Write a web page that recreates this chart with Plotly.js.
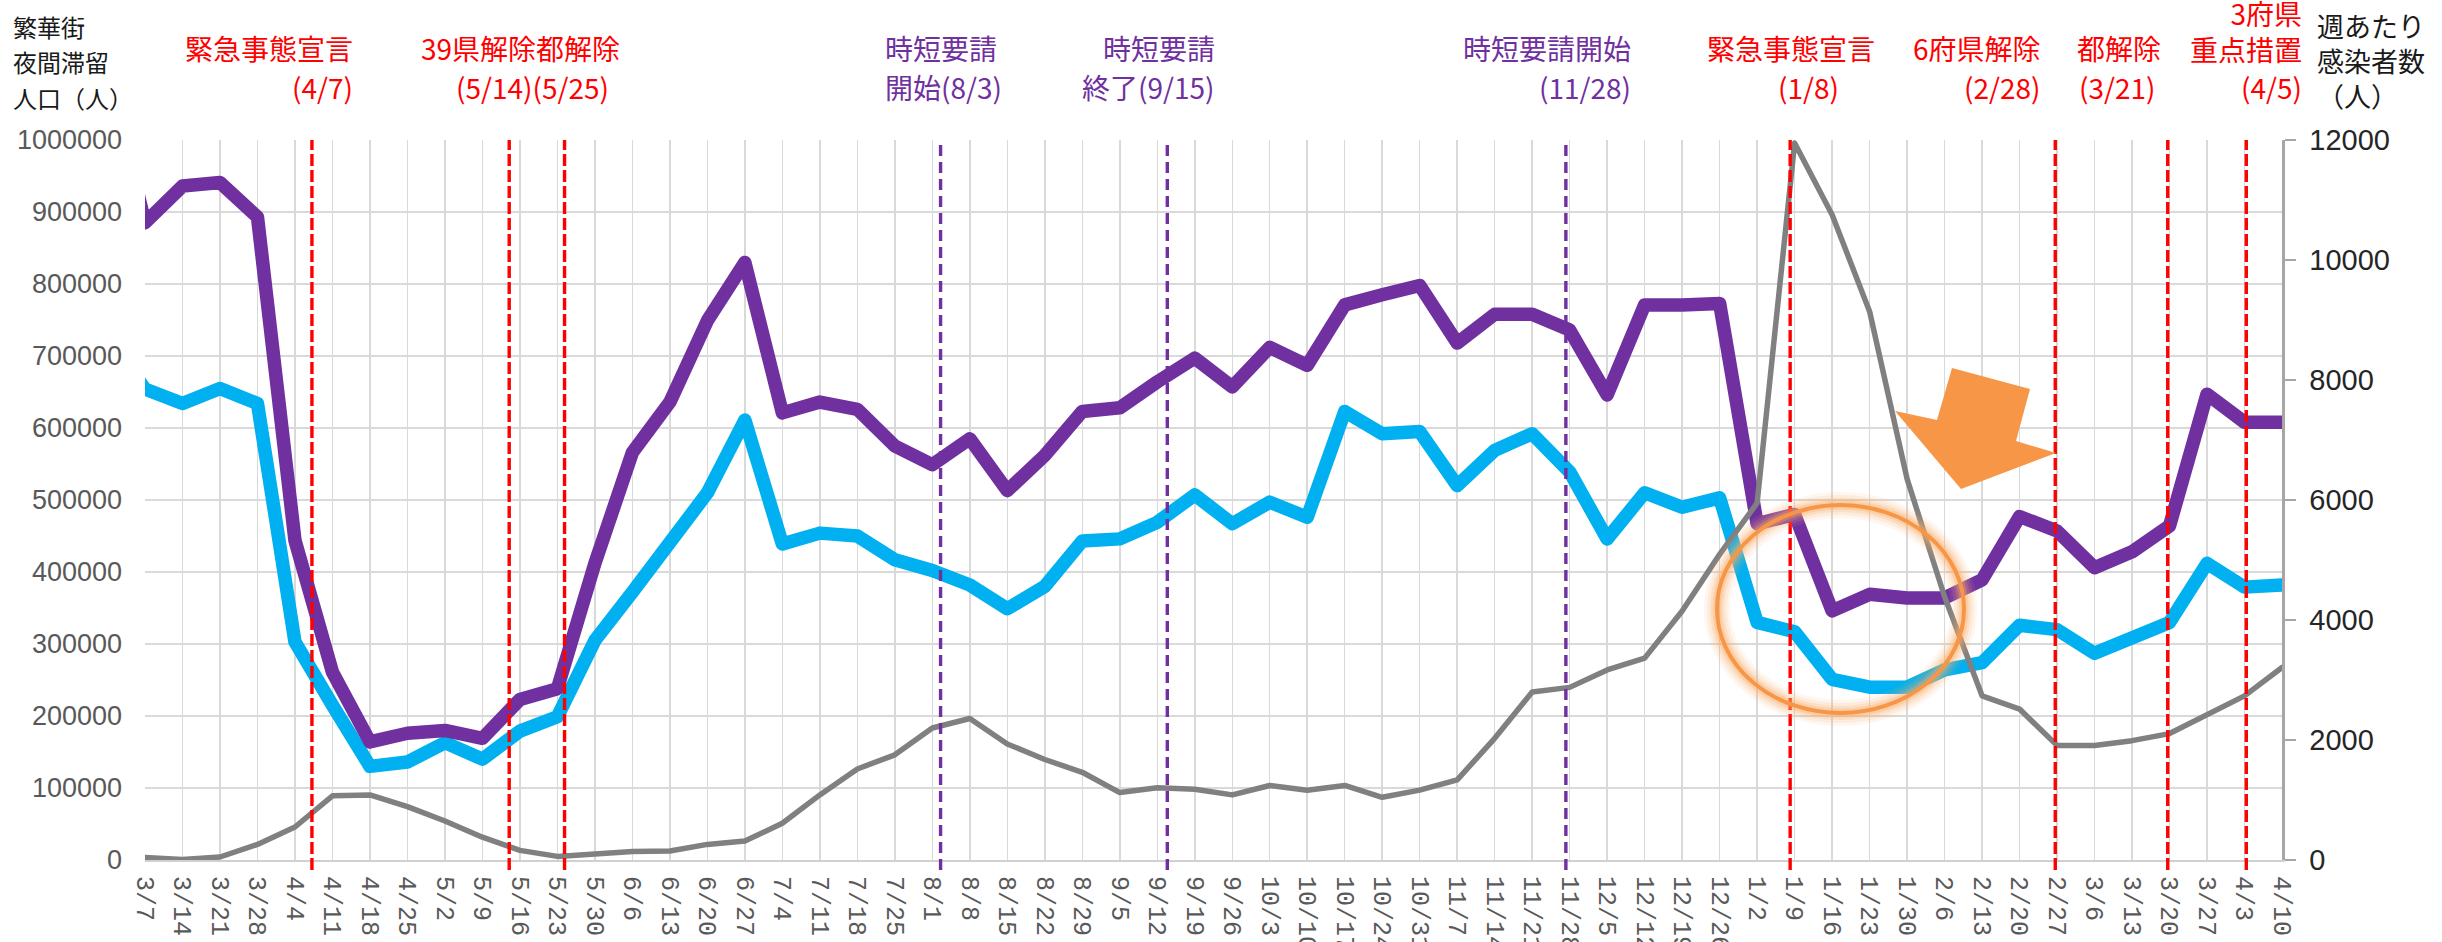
<!DOCTYPE html>
<html>
<head>
<meta charset="utf-8">
<script src="https://cdn.plot.ly/plotly-3.0.1.min.js"></script>
<style>
  html, body { margin: 0; padding: 0; background: #fff; }
  #chart { width: 2442px; height: 942px; }
  .scatterlayer .js-line { stroke-linejoin: round; stroke-linecap: round; }
</style>
</head>
<body>
<div id="chart"></div>
<script>
// Weekly dates (first entry 2/29 lies just outside the visible range)
const weekDates = [
  '2020-02-29',
  '2020-03-07','2020-03-14','2020-03-21','2020-03-28','2020-04-04','2020-04-11','2020-04-18','2020-04-25',
  '2020-05-02','2020-05-09','2020-05-16','2020-05-23','2020-05-30','2020-06-06','2020-06-13','2020-06-20',
  '2020-06-27','2020-07-04','2020-07-11','2020-07-18','2020-07-25','2020-08-01','2020-08-08','2020-08-15',
  '2020-08-22','2020-08-29','2020-09-05','2020-09-12','2020-09-19','2020-09-26','2020-10-03','2020-10-10',
  '2020-10-17','2020-10-24','2020-10-31','2020-11-07','2020-11-14','2020-11-21','2020-11-28','2020-12-05',
  '2020-12-12','2020-12-19','2020-12-26','2021-01-02','2021-01-09','2021-01-16','2021-01-23','2021-01-30',
  '2021-02-06','2021-02-13','2021-02-20','2021-02-27','2021-03-06','2021-03-13','2021-03-20','2021-03-27',
  '2021-04-03','2021-04-10'
];

// 繁華街 夜間滞留人口 (purple)
const purpleSeries = [
  1100000,
  885000, 936000, 941000, 893000, 444000, 261000, 164000, 176000,
  180000, 169000, 223000, 238000, 412000, 566000, 636000, 749000,
  830000, 621000, 636000, 626000, 575000, 549000, 585000, 513000,
  562000, 623000, 628000, 664000, 697000, 657000, 712000, 687000,
  771000, 785000, 798000, 718000, 758000, 758000, 736000, 646000,
  771000, 771000, 773000, 467000, 480000, 346000, 369000, 364000,
  364000, 389000, 477000, 457000, 406000, 428000, 464000, 647000,
  608000, 608000
];

// 繁華街 夜間滞留人口 (cyan)
const cyanSeries = [
  730000,
  654000, 634000, 655000, 634000, 303000, 215000, 130000, 136000,
  163000, 140000, 179000, 199000, 305000, 372000, 445000, 510000,
  611000, 439000, 454000, 450000, 417000, 402000, 382000, 349000,
  380000, 443000, 446000, 469000, 507000, 467000, 497000, 476000,
  623000, 592000, 595000, 520000, 569000, 592000, 539000, 446000,
  510000, 490000, 503000, 330000, 317000, 251000, 240000, 240000,
  264000, 274000, 326000, 320000, 287000, 307000, 330000, 412000,
  379000, 382000
];

// 週あたり感染者数 (gray, right axis)
const casesSeries = [
  40,
  40, 10, 50, 260, 550, 1070, 1085, 890,
  650, 380, 160, 60, 100, 140, 150, 260,
  315, 613, 1085, 1517, 1753, 2200, 2358, 1934,
  1675, 1462, 1124, 1203, 1180, 1085, 1242, 1164,
  1242, 1045, 1164, 1336, 2028, 2800, 2877, 3168,
  3365, 4150, 5094, 5950, 11950, 10755, 9143, 6352,
  4387, 2736, 2516, 1910, 1910, 1989, 2107, 2421,
  2736, 3208
];

// Event marker lines (positions as drawn in the reference, on its weekly axis)
const eventPositions = ['2020-04-07 04:00','2020-05-14 00:00','2020-05-24 08:00','2020-08-02 13:00','2020-09-13 21:00',
                        '2020-11-27 07:00','2021-01-08 04:00','2021-02-26 16:00','2021-03-19 16:00','2021-04-03 08:00'];
const eventColors = ['#FF0000','#FF0000','#FF0000','#7030A0','#7030A0','#7030A0','#FF0000','#FF0000','#FF0000','#FF0000'];

// Visible tick dates and labels
const tickDates  = weekDates.slice(1);
const tickLabels = tickDates.map(d => (+d.slice(5,7)) + '/' + (+d.slice(8,10)));

// plot-area pixel geometry helpers (for decorations / text placement)
const PL = 145, PR = 2282, PT = 140, PB = 860;
const X = px => (px - PL) / (PR - PL);
const Y = py => (PB - py) / (PB - PT);

const traces = [
  { x: weekDates, y: cyanSeries, type: 'scatter', mode: 'lines',
    line: { color: '#00B0F0', width: 13.5 }, hoverinfo: 'skip', yaxis: 'y' },
  { x: weekDates, y: purpleSeries, type: 'scatter', mode: 'lines',
    line: { color: '#7030A0', width: 13.5 }, hoverinfo: 'skip', yaxis: 'y' },
  { x: weekDates, y: casesSeries, type: 'scatter', mode: 'lines',
    line: { color: '#808080', width: 5.5 }, hoverinfo: 'skip', yaxis: 'y2' }
];

const shapes = [];
eventPositions.forEach((d, i) => {
  shapes.push({ type: 'line', xref: 'x', yref: 'paper', x0: d, x1: d, y0: -0.014, y1: 1,
    line: { color: eventColors[i], width: 3.4, dash: eventColors[i] === '#FF0000' ? '12px,4px' : '11px,6px' },
    layer: 'above' });
});

// glowing ellipse
const ex0 = X(1717), ex1 = X(1964), ey0 = Y(713), ey1 = Y(505);
[[26, 0.10], [20, 0.14], [14, 0.20], [9, 0.32]].forEach(([w, o]) => {
  shapes.push({ type: 'circle', xref: 'paper', yref: 'paper', x0: ex0, x1: ex1, y0: ey0, y1: ey1,
    line: { color: '#F9AE6A', width: w }, opacity: o, layer: 'above' });
});
shapes.push({ type: 'circle', xref: 'paper', yref: 'paper', x0: ex0, x1: ex1, y0: ey0, y1: ey1,
  line: { color: '#F79646', width: 4 }, layer: 'above' });

// block arrow
const arrowPts = [[1961, 489], [1895, 411], [1937, 420], [1952, 368], [2030, 389], [2016, 441], [2056, 453]];
shapes.push({ type: 'path', xref: 'paper', yref: 'paper',
  path: 'M ' + arrowPts.map(p => X(p[0]).toFixed(5) + ',' + Y(p[1]).toFixed(5)).join(' L ') + ' Z',
  fillcolor: '#F79646', line: { width: 0 }, layer: 'above' });

const CJK = '"Noto Sans CJK JP", "Noto Sans", sans-serif';
const RED = '#FF0000', PUR = '#7030A0', BLK = '#1a1a1a';
function ann(text, px, py, anchor, color, size) {
  return { text: text, xref: 'paper', yref: 'paper', x: X(px), y: Y(py), xanchor: anchor, yanchor: 'middle',
    align: anchor === 'center' ? 'center' : anchor, showarrow: false, borderpad: 0,
    font: { family: CJK, size: size || 28, color: color } };
}
const L1 = 48, L2 = 87;
const annotations = [
  ann('繁華街', 12, 27, 'left', BLK, 24),
  ann('夜間滞留', 12, 62, 'left', BLK, 24),
  ann('人口（人）', 12, 97, 'left', BLK, 24),
  ann('緊急事態宣言', 354, L1, 'right', RED),
  ann('(4/7)', 354, L2, 'right', RED),
  ann('39県解除都解除', 621, L1, 'right', RED),
  ann('(5/14)(5/25)', 610, L2, 'right', RED),
  ann('時短要請', 884, L1, 'left', PUR),
  ann('開始(8/3)', 884, L2, 'left', PUR),
  ann('時短要請', 1216, L1, 'right', PUR),
  ann('終了(9/15)', 1216, L2, 'right', PUR),
  ann('時短要請開始', 1632, L1, 'right', PUR),
  ann('(11/28)', 1632, L2, 'right', PUR),
  ann('緊急事態宣言', 1876, L1, 'right', RED),
  ann('(1/8)', 1808, L2, 'center', RED),
  ann('6府県解除', 2042, L1, 'right', RED),
  ann('(2/28)', 2042, L2, 'right', RED),
  ann('都解除', 2076, L1, 'left', RED),
  ann('(3/21)', 2078, L2, 'left', RED),
  ann('3府県<br>重点措置', 2303, 31, 'right', RED),
  ann('(4/5)', 2303, L2, 'right', RED),
  ann('週あたり<br>感染者数<br>（人）', 2316, 61, 'left', BLK, 27)
];

const layout = {
  width: 2442, height: 942,
  margin: { l: PL, r: 2442 - PR, t: PT, b: 942 - PB, pad: 0 },
  paper_bgcolor: '#ffffff', plot_bgcolor: '#ffffff',
  showlegend: false,
  font: { family: CJK },
  xaxis: {
    type: 'date', range: ['2020-03-07', '2021-04-10'],
    tickmode: 'array', tickvals: tickDates, ticktext: tickLabels,
    tickangle: 90, ticks: '', ticklabelstandoff: 9,
    tickfont: { family: '"Liberation Mono", "DejaVu Sans Mono", monospace', size: 25, color: '#595959' },
    showgrid: true, gridcolor: '#D9D9D9', gridwidth: 1.5,
    showline: true, linecolor: '#D0D0D0', linewidth: 2, zeroline: false, fixedrange: true
  },
  yaxis: {
    range: [0, 1000000], tickmode: 'linear', tick0: 0, dtick: 100000, tickformat: 'd',
    tickfont: { family: '"Liberation Sans", Arial, sans-serif', size: 27, color: '#595959' },
    showgrid: true, gridcolor: '#D9D9D9', gridwidth: 1.5,
    showline: false, zeroline: false, ticks: '', ticklabelstandoff: 22, fixedrange: true
  },
  yaxis2: {
    overlaying: 'y', side: 'right', anchor: 'x',
    range: [0, 12000], tickmode: 'linear', tick0: 0, dtick: 2000, tickformat: 'd',
    tickfont: { family: '"Liberation Sans", Arial, sans-serif', size: 29, color: '#262626' },
    showgrid: false, zeroline: false,
    showline: true, linecolor: '#A6A6A6', linewidth: 2.5,
    ticks: 'outside', ticklen: 11, tickwidth: 2, tickcolor: '#A6A6A6', ticklabelstandoff: 8, fixedrange: true
  },
  shapes: shapes,
  annotations: annotations
};

Plotly.newPlot('chart', traces, layout, { staticPlot: true, displayModeBar: false });
</script>
</body>
</html>
